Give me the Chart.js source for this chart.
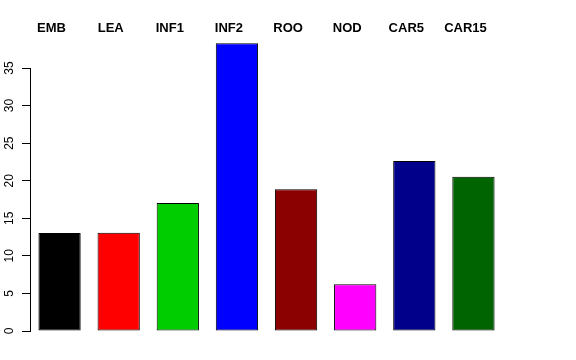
<!DOCTYPE html>
<html>
<head>
<meta charset="utf-8">
<script src="https://cdn.jsdelivr.net/npm/chart.js@4"></script>
<style>
  body { margin: 0; background: #fff; }
  canvas { display: block; }
</style>
</head>
<body>
<canvas id="myChart" width="576" height="360"></canvas>
<script>
/////////////////// DATA ///////////////////
const tissues = ["EMB", "LEA", "INF1", "INF2", "ROO", "NOD", "CAR5", "CAR15"];
const counts = [13.05, 13.08, 17.03, 38.3, 18.86, 6.21, 22.62, 20.54];
const barColors = ["#000000", "#FF0000", "#00CD00", "#0000FF", "#8B0000", "#FF00FF", "#00008B", "#006400"];
const yTicks = [0, 5, 10, 15, 20, 25, 30, 35];

/////////////////// CHART ///////////////////
const font = "'Liberation Sans', Arial, Helvetica, sans-serif";

const data = {
  labels: tissues,
  datasets: [
    {
      data: counts,
      backgroundColor: barColors,
      borderColor: "#000",
      borderWidth: 1,
      borderSkipped: false,
      barPercentage: 0.715,
      categoryPercentage: 1,
      clip: false,
    },
  ],
};

const config = {
  type: "bar",
  data: data,
  options: {
    responsive: false,
    animation: false,
    layout: { padding: { top: 20, right: 73, bottom: 29, left: 0 } },
    plugins: { legend: { display: false }, tooltip: { enabled: false } },
    scales: {
      x: {
        position: "top",
        afterFit: (scale) => { scale.height = 48; },
        grid: { display: false, drawTicks: false },
        border: { display: false },
        ticks: {
          color: "#000",
          font: { family: font, size: 13, weight: "bold" },
          padding: 32,
          labelOffset: -8,
          maxRotation: 0,
        },
      },
      y: {
        min: 0,
        max: 35,
        afterFit: (scale) => { scale.width = 30; },
        afterBuildTicks: (scale) => { scale.ticks = yTicks.map((v) => ({ value: v })); },
        grid: { display: true, drawOnChartArea: false, tickLength: 8, color: "#000", lineWidth: 1 },
        border: { display: true, color: "#000", width: 1 },
        ticks: {
          color: "#000",
          font: { family: font, size: 12 },
          minRotation: 90,
          maxRotation: 90,
          crossAlign: "center",
          padding: 6,
        },
      },
    },
  },
};

const myChart = new Chart(document.getElementById("myChart"), config);
</script>
</body>
</html>
